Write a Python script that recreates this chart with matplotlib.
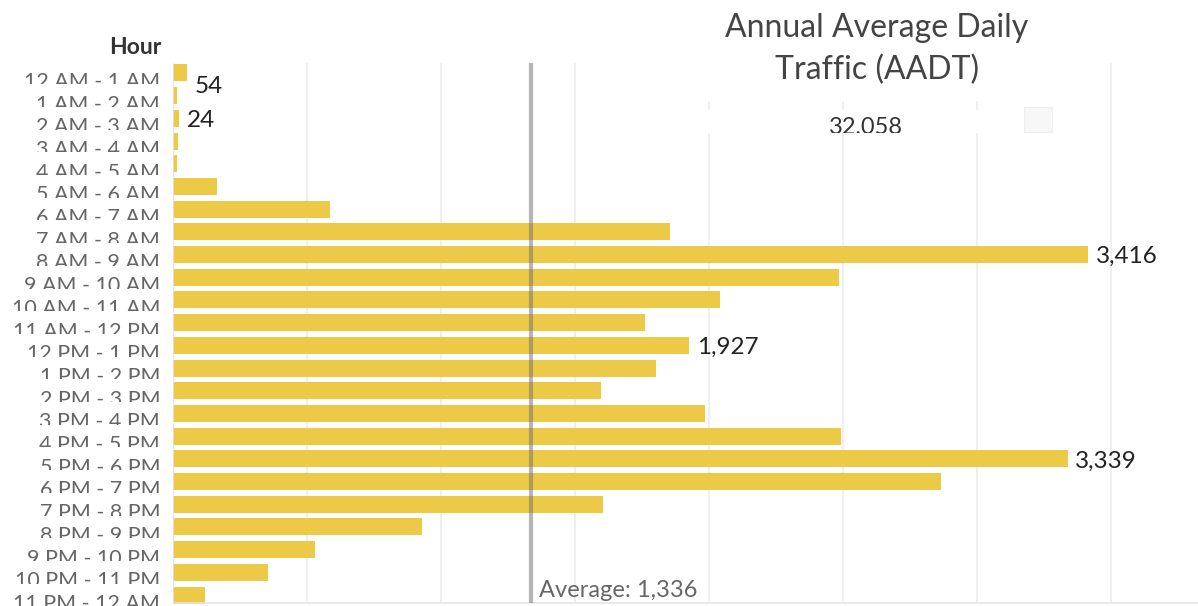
import numpy as np
import matplotlib
matplotlib.use('Agg')
import matplotlib.pyplot as plt
from matplotlib.patches import Rectangle
from matplotlib.transforms import Bbox

hours = ['12 AM - 1 AM', '1 AM - 2 AM', '2 AM - 3 AM', '3 AM - 4 AM', '4 AM - 5 AM',
         '5 AM - 6 AM', '6 AM - 7 AM', '7 AM - 8 AM', '8 AM - 9 AM', '9 AM - 10 AM',
         '10 AM - 11 AM', '11 AM - 12 PM', '12 PM - 1 PM', '1 PM - 2 PM', '2 PM - 3 PM',
         '3 PM - 4 PM', '4 PM - 5 PM', '5 PM - 6 PM', '6 PM - 7 PM', '7 PM - 8 PM',
         '8 PM - 9 PM', '9 PM - 10 PM', '10 PM - 11 PM', '11 PM - 12 AM']
traffic = [54, 15, 24, 20, 15, 164, 586, 1855, 3416, 2485, 2041, 1761, 1927, 1802,
           1597, 1985, 2493, 3339, 2866, 1604, 929, 530, 354, 119]
labelled = {0: '54', 2: '24', 8: '3,416', 12: '1,927', 17: '3,339'}
average = 1336
aadt = '32,058'

plt.rcParams['font.family'] = ['Lato', 'DejaVu Sans']

W, H = 1198, 606
fig = plt.figure(figsize=(W / 100, H / 100), dpi=100)


def fx(x):
    return x / W


def fy(y):
    return 1 - y / H


# axes spans 173..1198 px horizontally, 61.6..606.4 px vertically
ax_top, ax_bot = 61.6, 606.4
ax = fig.add_axes([fx(173), fy(ax_bot), fx(1198 - 173), (ax_bot - ax_top) / H])
y = np.arange(len(hours))
ax.barh(y, traffic, height=0.75, color='#EDC948', zorder=2)
ax.set_xlim(0, 3825)
ax.set_ylim(len(hours) - 0.5, -0.5)
ax.axis('off')

for g in range(500, 3825, 500):
    ax.vlines(g, -0.45, 23.37, color='#efefef', lw=1.5, zorder=1)
ax.vlines(0, -0.45, 23.37, color='#e4e4e4', lw=1.2, zorder=3)
ax.hlines(23.37, 0, 3825, color='#e4e4e4', lw=1.2, zorder=3)

ax.vlines(average, -0.45, 23.37, color='#6e6e6e', alpha=0.5, lw=3, zorder=4)
ax.text(average + 30, 22.8, 'Average: 1,336', color='#666666', fontsize=17,
        ha='left', va='center', zorder=5)

for i, txt in labelled.items():
    dy = 0.6 if i == 0 else 0.1
    ax.text(traffic[i] + 28, i + dy, txt, fontsize=17.5, color='#222222',
            ha='left', va='center', zorder=5)

# row labels, clipped to each row band
for i, lab in enumerate(hours):
    t = ax.text(-48, i - 0.05, lab, fontsize=15.5, color='#666666',
                ha='right', va='top', zorder=5)
    (x0, y0), (x1, y1) = ax.transData.transform([(0, i + 0.5), (0, i - 0.5)])
    t.set_clip_box(Bbox([[0, y0], [x0 - 1, y1]]))
    t.set_clip_on(True)

fig.text(fx(162), fy(48), 'Hour', fontsize=16.5, fontweight='bold', color='#333333',
         ha='right', va='center')

# title panel overlay
fig.add_artist(Rectangle((fx(700), fy(101)), fx(370), 101 / H,
                         transform=fig.transFigure, facecolor='white',
                         edgecolor='none', zorder=5))
fig.add_artist(Rectangle((fx(700), fy(133)), fx(320), 23 / H,
                         transform=fig.transFigure, facecolor='white',
                         edgecolor='none', zorder=5))
fig.add_artist(Rectangle((fx(1024), fy(132)), fx(28), 25 / H,
                         transform=fig.transFigure, facecolor='#f7f7f7',
                         edgecolor='#ededed', lw=0.8, zorder=6))
fig.text(fx(877), fy(28), 'Annual Average Daily', fontsize=23, color='#444444',
         ha='center', va='center', zorder=7)
fig.text(fx(877), fy(70), 'Traffic (AADT)', fontsize=23, color='#444444',
         ha='center', va='center', zorder=7)
t = fig.text(fx(866), fy(117), aadt, fontsize=17, color='#333333',
             ha='center', va='top', zorder=7)
t.set_clip_box(Bbox([[700, H - 133], [1020, H - 101]]))
t.set_clip_on(True)

fig.savefig('out.png', dpi=100)
